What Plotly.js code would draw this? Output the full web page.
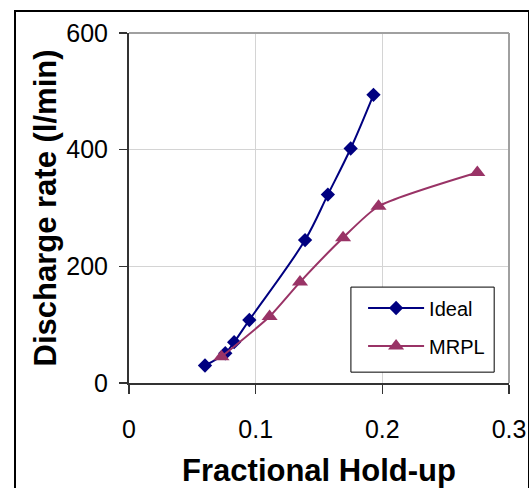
<!DOCTYPE html>
<html>
<head>
<meta charset="utf-8">
<script src="https://cdn.plot.ly/plotly-3.0.1.min.js"></script>
<style>
html,body{margin:0;padding:0;background:#fff;}
#chart{width:529px;height:488px;}
#frame{position:absolute;left:14px;top:10px;width:512px;height:500px;border:2px solid #000;pointer-events:none;}
</style>
</head>
<body>
<div id="chart"></div>
<div id="frame"></div>
<script>
const idealX = [0.060, 0.076, 0.083, 0.095, 0.139, 0.157, 0.175, 0.193];
const idealY = [30, 51, 70, 108, 245, 323, 402, 494];
const mrplX = [0.073, 0.111, 0.135, 0.169, 0.197, 0.275];
const mrplY = [45, 114, 173, 249, 303, 361];
const xTicks = [0, 0.1, 0.2, 0.3];
const xTickText = ['0', '0.1', '0.2', '0.3'];
const yTicks = [0, 200, 400, 600];
const yTickText = ['0', '200', '400', '600'];

const FONT = 'Arial, "Liberation Sans", sans-serif';

const traces = [
  {
    x: idealX, y: idealY, name: 'Ideal', type: 'scatter', mode: 'lines+markers',
    line: {color: '#000080', width: 2, shape: 'spline', smoothing: 1},
    marker: {symbol: 'diamond', size: 11, color: '#000080'},
    legendgroup: 'a'
  },
  {
    x: mrplX, y: mrplY, name: 'MRPL', type: 'scatter', mode: 'lines+markers',
    line: {color: '#993366', width: 2, shape: 'spline', smoothing: 0.6},
    marker: {symbol: 'triangle-up', size: 14, color: '#993366'},
    legendgroup: 'b'
  }
];

const layout = {
  width: 529, height: 488,
  margin: {l: 129, r: 20, t: 33, b: 105},
  paper_bgcolor: '#fff', plot_bgcolor: '#fff',
  showlegend: true,
  font: {family: FONT, color: '#000'},
  xaxis: {
    range: [0, 0.3], tickvals: xTicks, ticktext: xTickText,
    showgrid: true, gridcolor: '#d4d4d4', gridwidth: 1.5,
    zeroline: false, showline: true, linecolor: '#333', linewidth: 2,
    ticks: 'outside', ticklen: 9, tickcolor: '#333', tickwidth: 1.5,
    tickfont: {size: 25, family: FONT}, ticklabelstandoff: 14,
    title: {text: 'Fractional Hold-up', font: {size: 31, family: FONT, weight: 'bold'}, standoff: 24},
    automargin: false
  },
  yaxis: {
    range: [0, 600], tickvals: yTicks, ticktext: yTickText,
    showgrid: true, gridcolor: '#d4d4d4', gridwidth: 1.5,
    zeroline: false, showline: true, linecolor: '#333', linewidth: 2,
    ticks: 'outside', ticklen: 8, tickcolor: '#333', tickwidth: 1.5,
    tickfont: {size: 25, family: FONT}, ticklabelstandoff: 6,
    title: {text: 'Discharge rate (l/min)', font: {size: 31, family: FONT, weight: 'bold'}, standoff: 0},
    automargin: false
  },
  legend: {
    x: 0.616, y: 0.27, xanchor: 'left', yanchor: 'top',
    bgcolor: 'rgba(0,0,0,0)', borderwidth: 0,
    font: {size: 20, family: FONT},
    itemwidth: 56, tracegroupgap: 9
  },
  shapes: [
    {type: 'line', xref: 'paper', yref: 'paper', x0: 0, x1: 1, y0: 1, y1: 1, line: {color: '#a0a0a0', width: 2}},
    {type: 'line', xref: 'paper', yref: 'paper', x0: 1, x1: 1, y0: 0, y1: 1, line: {color: '#a0a0a0', width: 2}},
    {type: 'rect', xref: 'paper', yref: 'paper', x0: 0.584, x1: 0.961, y0: 0.031, y1: 0.274,
     fillcolor: '#fff', line: {color: '#000', width: 1}, layer: 'above'}
  ]
};

Plotly.newPlot('chart', traces, layout, {displayModeBar: false, staticPlot: true});
</script>
</body>
</html>
